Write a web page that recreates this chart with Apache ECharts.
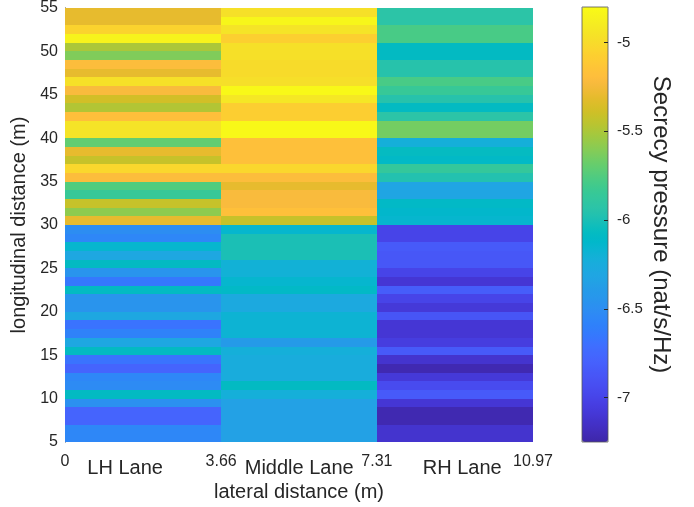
<!DOCTYPE html>
<html>
<head>
<meta charset="utf-8">
<script src="https://cdn.jsdelivr.net/npm/echarts@6/dist/echarts.min.js"></script>
<style>
html,body{margin:0;padding:0;background:#fff;}
#chart{width:694px;height:507px;}
</style>
</head>
<body>
<div id="chart"></div>
<script>
// Lane boundaries (lateral distance, m)
const laneEdges = [0, 3.66, 7.31, 10.97];
const laneNames = ['LH Lane', 'Middle Lane', 'RH Lane'];
const laneLabelPos = [1.41, 5.49, 9.31];
const xTickValues = [0, 3.66, 7.31, 10.97];
const yTickInterval = 5;
const colorbarTicks = [-7, -6.5, -6, -5.5, -5];
const valueMin = -7.25;
const valueMax = -4.8;

// Row edges: longitudinal distance 55 (top) down to 5, 1 m cells
const rowTop = 55;
const rowCount = 50;

// Secrecy pressure per row, from y=55 (top) down to y=5
const lhLane = [
  -5.30, -5.30, -5.05, -4.85, -5.50, -5.62, -5.20, -5.30, -4.97, -5.22,
  -5.38, -5.48, -5.18, -4.95, -4.95, -5.70, -5.30, -5.42, -5.03, -5.20,
  -5.75, -5.85, -5.42, -5.58, -5.30, -6.50, -6.55, -6.15, -6.30, -6.08,
  -6.45, -6.65, -6.08, -6.45, -6.45, -6.30, -6.68, -6.58, -6.30, -6.08,
  -6.68, -6.78, -6.55, -6.52, -6.08, -6.48, -6.78, -6.78, -6.55, -6.55
];
const middleLane = [
  -4.97, -4.83, -4.95, -5.07, -4.97, -4.97, -5.00, -5.00, -4.98, -4.82,
  -4.93, -5.08, -5.08, -4.82, -4.82, -5.17, -5.17, -5.17, -5.03, -5.20,
  -5.30, -5.22, -5.22, -5.17, -5.42, -6.15, -6.00, -6.00, -6.00, -6.20,
  -6.20, -6.15, -6.10, -6.28, -6.28, -6.18, -6.18, -6.18, -6.40, -6.22,
  -6.25, -6.25, -6.25, -6.08, -6.22, -6.35, -6.35, -6.35, -6.35, -6.35
];
const rhLane = [
  -5.93, -5.93, -5.78, -5.78, -6.08, -6.08, -5.95, -5.95, -5.78, -5.85,
  -5.95, -6.08, -5.93, -5.65, -5.65, -6.22, -6.07, -6.10, -5.87, -5.97,
  -6.32, -6.32, -6.10, -6.13, -6.15, -7.00, -7.00, -6.85, -6.87, -6.87,
  -7.00, -7.10, -6.83, -7.00, -7.08, -6.88, -7.10, -7.10, -7.05, -6.85,
  -7.12, -7.22, -7.08, -6.95, -6.85, -7.10, -7.22, -7.22, -7.12, -7.12
];
const lanes = [lhLane, middleLane, rhLane];

const parula = ['#3E26A8','#402AB4','#422EC0','#4332CB','#4537D5','#463CDE','#4741E5','#4747EB',
'#484DF0','#4852F4','#4758F8','#465EFB','#4563FD','#4269FE','#3E6FFF','#3875FE','#327CFC','#2F81FA',
'#2E87F7','#2D8CF3','#2B91EF','#2797EB','#259BE8','#23A0E5','#20A5E3','#1CA9DF','#18ADDB','#12B1D6',
'#08B5D0','#01B8CA','#02BAC3','#0BBDBD','#19BFB6','#24C1AE','#2CC4A7','#31C69F','#37C897','#3FCA8E',
'#4ACB84','#57CC7A','#64CD6F','#72CD64','#81CC59','#8FCB4E','#9DC943','#ABC739','#B9C431','#C5C22A',
'#D1BF27','#DCBD29','#E6BB2D','#F0BA36','#F8BA3D','#FEBE3C','#FEC338','#FEC934','#FCCF30','#FAD62D',
'#F7DC2A','#F5E327','#F5E924','#F6EF20','#F7F51B','#F9FB15'];

const cells = [];
lanes.forEach((vals, li) => {
  vals.forEach((v, ri) => {
    const yTop = rowTop - ri;
    cells.push([laneEdges[li], laneEdges[li + 1], yTop - 1, yTop, v]);
  });
});

const txt = '#262626';
const font = 'Liberation Sans, Arial, Helvetica, sans-serif';

const chart = echarts.init(document.getElementById('chart'));
chart.setOption({
  animation: false,
  backgroundColor: '#ffffff',
  textStyle: { fontFamily: font, color: txt },
  grid: [
    { left: 65, top: 7, width: 468, height: 435, containLabel: false },
    { left: 582, top: 7, width: 26, height: 435, show: true, borderColor: '#555555', borderWidth: 0.8, backgroundColor: 'transparent', z: 10 }
  ],
  xAxis: [
    {
      type: 'value', gridIndex: 0, min: 0, max: 10.97, position: 'bottom',
      splitLine: { show: false },
      axisLine: { show: false },
      axisTick: { show: false },
      axisLabel: {
        customValues: xTickValues, fontSize: 16, color: txt, fontFamily: font, margin: 12,
        formatter: v => String(v)
      },
      name: 'lateral distance (m)', nameLocation: 'middle', nameGap: 40,
      nameTextStyle: { fontSize: 20, color: txt, fontFamily: font }
    },
    {
      type: 'value', gridIndex: 0, min: 0, max: 10.97, position: 'bottom',
      splitLine: { show: false },
      axisLine: { show: false },
      axisTick: { show: false },
      axisLabel: {
        customValues: laneLabelPos, fontSize: 20, color: txt, fontFamily: font, margin: 16,
        formatter: v => laneNames[laneLabelPos.indexOf(v)]
      }
    },
    { type: 'value', gridIndex: 1, min: 0, max: 1, show: false }
  ],
  yAxis: [
    {
      type: 'value', gridIndex: 0, min: 5, max: 55, interval: yTickInterval,
      splitLine: { show: false },
      axisLine: { show: true, lineStyle: { color: '#262626', width: 1 } },
      axisTick: { show: false },
      axisLabel: { fontSize: 16, color: txt, fontFamily: font, margin: 7 },
      name: 'longitudinal distance (m)', nameLocation: 'middle', nameGap: 33,
      nameTextStyle: { fontSize: 20, color: txt, fontFamily: font }
    },
    {
      type: 'value', gridIndex: 1, min: valueMin, max: valueMax, position: 'right', z: 10,
      splitLine: { show: false },
      axisLine: { show: false, onZero: false },
      axisTick: { show: true, inside: true, length: 4, customValues: colorbarTicks, lineStyle: { color: '#262626', width: 1 } },
      axisLabel: {
        customValues: colorbarTicks, fontSize: 15, color: txt, fontFamily: font, margin: 9,
        formatter: v => String(v)
      },
      name: 'Secrecy pressure (nat/s/Hz)', nameLocation: 'middle', nameGap: 41, nameRotate: -90,
      nameTextStyle: { fontSize: 24, color: txt, fontFamily: font }
    }
  ],
  visualMap: {
    type: 'continuous', min: valueMin, max: valueMax, dimension: 4, seriesIndex: 0,
    calculable: false, orient: 'vertical', left: 582, top: 7, padding: 0,
    itemWidth: 26, itemHeight: 435, text: null, showLabel: false,
    inRange: { color: parula }
  },
  series: [{
    type: 'custom',
    xAxisIndex: 0, yAxisIndex: 0,
    data: cells,
    encode: { x: [0, 1], y: [2, 3] },
    renderItem: function (params, api) {
      const a = api.coord([api.value(0), api.value(3)]);
      const b = api.coord([api.value(1), api.value(2)]);
      const x0 = Math.round(a[0]), y0 = Math.round(a[1]);
      const x1 = Math.round(b[0]), y1 = Math.round(b[1]);
      return {
        type: 'rect',
        shape: { x: x0, y: y0, width: x1 - x0, height: y1 - y0 },
        style: { fill: api.visual('color'), stroke: null }
      };
    }
  }]
});
</script>
</body>
</html>
